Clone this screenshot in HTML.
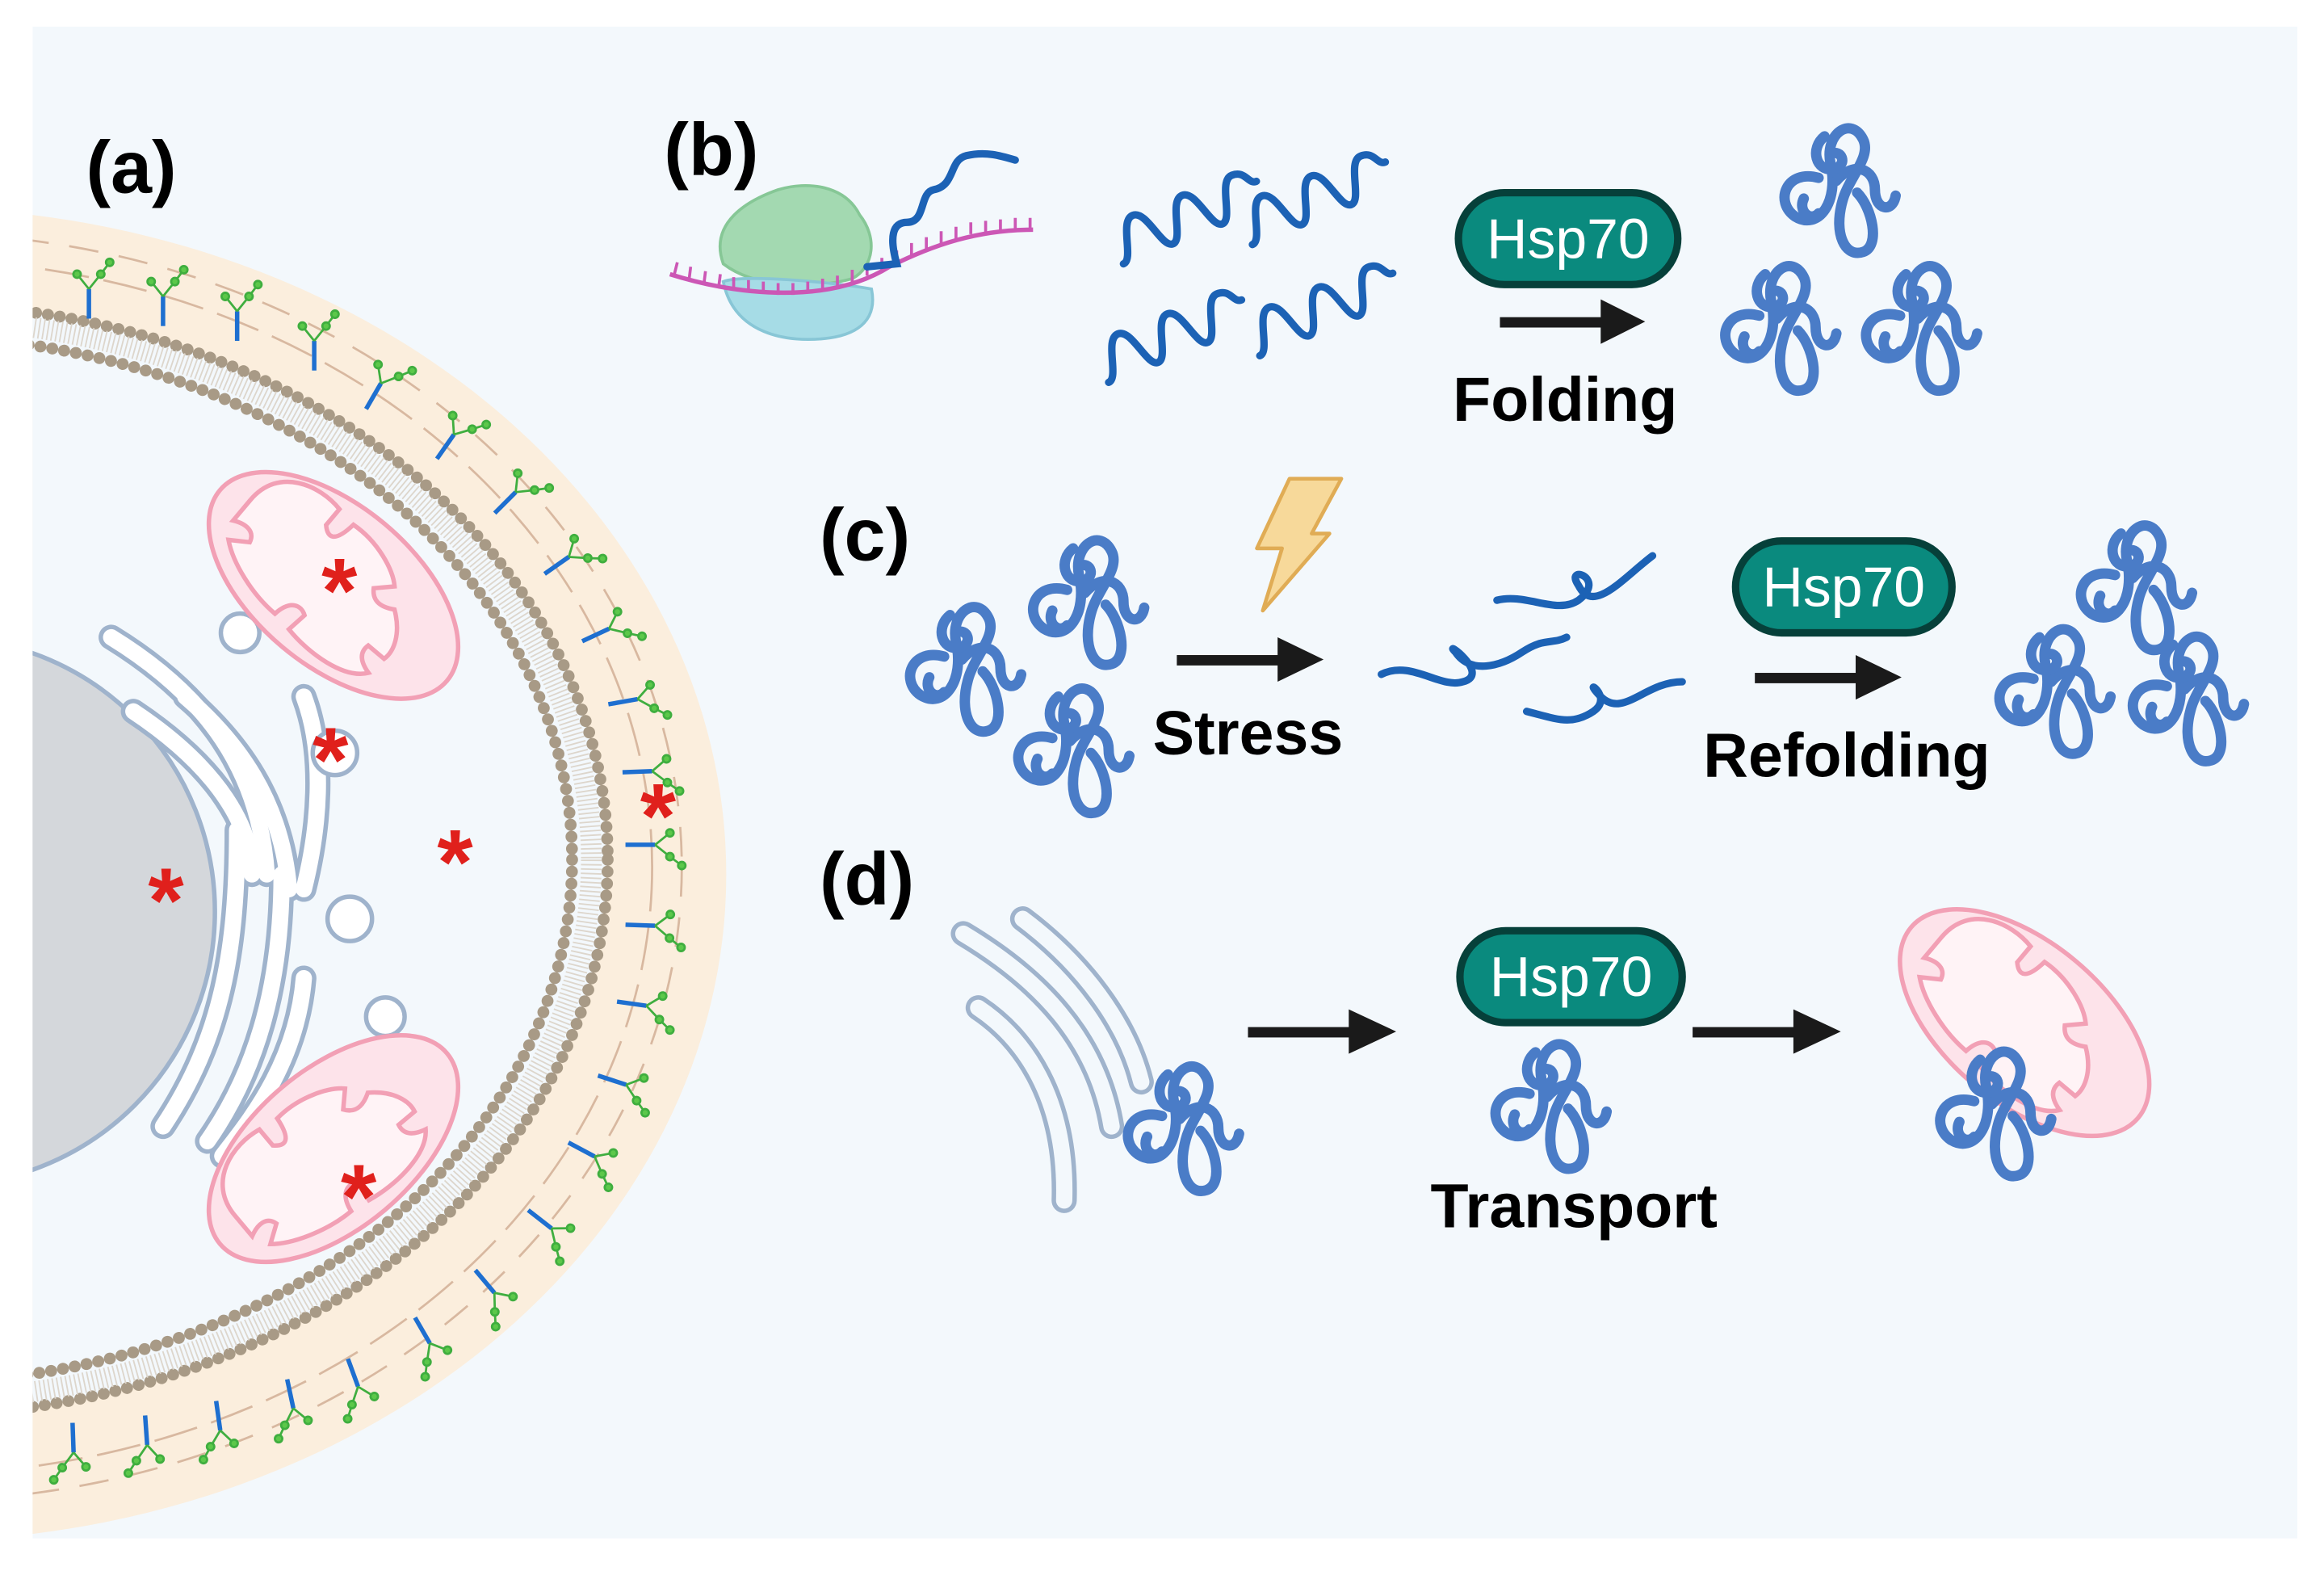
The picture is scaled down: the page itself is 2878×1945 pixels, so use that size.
<!DOCTYPE html>
<html><head><meta charset="utf-8"><style>
html,body{margin:0;padding:0;background:#fff;}
svg{display:block;}
text{font-family:"Liberation Sans",sans-serif;}
</style></head><body>
<svg width="2878" height="1945" viewBox="0 0 1568 1060" preserveAspectRatio="none" xmlns="http://www.w3.org/2000/svg">
<defs>
<clipPath id="pc"><rect x="22" y="18" width="1528" height="1020"/></clipPath>
<g id="prot" fill="none" stroke="#4a7cc7" stroke-width="7" stroke-linecap="round" stroke-linejoin="round">
<path d="M32,48 c-22,-6 -30,16 -16,26 c16,10 30,-10 24,-36 c-4,-20 14,-32 22,-16 c6,12 -10,26 -14,42 c-6,22 2,38 14,34 c12,-4 6,-30 -4,-40"/>
<path d="M44,50 c12,-14 26,-8 26,6 c0,14 12,16 14,4"/>
<path d="M36,20 c-10,8 -6,24 6,22 c10,-2 6,-14 -2,-10"/>
<path d="M22,62 c-4,8 4,16 10,10"/>
</g>
<g id="mito">
<ellipse cx="0" cy="0" rx="100" ry="54" fill="#fde3ea" stroke="#f2a0b5" stroke-width="3"/>
<path d="M-80,-8 c0,-30 30,-38 50,-34 l0,14 c6,6 12,6 14,-12 c20,-2 40,6 48,14 l-10,10 c4,6 10,8 20,2 c14,10 18,22 16,30 l-14,0 c-2,8 4,12 12,14 c-10,14 -40,16 -60,12 l2,-14 c-6,-4 -14,-2 -16,12 c-20,0 -44,-8 -56,-18 l12,-8 c-2,-8 -10,-8 -18,-4 z" fill="#fff3f6" stroke="#f2a0b5" stroke-width="3"/>
</g>
<g id="wave"><path d="M0,0 c8,0 8,-28 18,-28 s10,28 18,28 s8,-28 18,-28 s10,28 18,28 s8,-28 18,-28 s8,10 14,10" fill="none" stroke="#1c62b5" stroke-width="5" stroke-linecap="round"/></g>
</defs>
<rect width="1568" height="1060" fill="#fff"/>
<rect x="22" y="18" width="1528" height="1020" fill="#f3f8fc"/>
<g clip-path="url(#pc)">
<ellipse cx="-60" cy="590" rx="550" ry="450" fill="#fbeedd"/>
<ellipse cx="-60" cy="585" rx="500" ry="410" fill="none" stroke="#d8b8a0" stroke-width="1.5" stroke-dasharray="30 10"/>
<ellipse cx="-60" cy="585" rx="520" ry="428" fill="none" stroke="#d8b8a0" stroke-width="1.5" stroke-dasharray="20 14"/>
<ellipse cx="-60" cy="580" rx="470" ry="375" fill="#f3f8fc" stroke="#a89a86" stroke-width="8" stroke-dasharray="0.1 8" stroke-linecap="round"/>
<ellipse cx="-60" cy="580" rx="459" ry="365" fill="none" stroke="#ddd6cc" stroke-width="14" stroke-dasharray="1 2"/>
<ellipse cx="-60" cy="580" rx="446" ry="353" fill="none" stroke="#a89a86" stroke-width="8" stroke-dasharray="0.1 8" stroke-linecap="round"/>
<g stroke="#3fae3f" stroke-width="1.5" fill="#5cc84a">
<g transform="translate(60,185)"><line x1="0" y1="30" x2="0" y2="10" stroke="#1e6fd0" stroke-width="3"/><path d="M0,10 l-8,-10 M0,10 l8,-10 M8,0 l6,-8" fill="none"/><circle cx="-8" cy="0" r="2.5"/><circle cx="8" cy="0" r="2.5"/><circle cx="14" cy="-8" r="2.5"/></g>
<g transform="translate(110,190)"><line x1="0" y1="30" x2="0" y2="10" stroke="#1e6fd0" stroke-width="3"/><path d="M0,10 l-8,-10 M0,10 l8,-10 M8,0 l6,-8" fill="none"/><circle cx="-8" cy="0" r="2.5"/><circle cx="8" cy="0" r="2.5"/><circle cx="14" cy="-8" r="2.5"/></g>
<g transform="translate(160,200)"><line x1="0" y1="30" x2="0" y2="10" stroke="#1e6fd0" stroke-width="3"/><path d="M0,10 l-8,-10 M0,10 l8,-10 M8,0 l6,-8" fill="none"/><circle cx="-8" cy="0" r="2.5"/><circle cx="8" cy="0" r="2.5"/><circle cx="14" cy="-8" r="2.5"/></g>
<g transform="translate(212,220)"><line x1="0" y1="30" x2="0" y2="10" stroke="#1e6fd0" stroke-width="3"/><path d="M0,10 l-8,-10 M0,10 l8,-10 M8,0 l6,-8" fill="none"/><circle cx="-8" cy="0" r="2.5"/><circle cx="8" cy="0" r="2.5"/><circle cx="14" cy="-8" r="2.5"/></g>
<g transform="translate(262,250) rotate(30)"><line x1="0" y1="30" x2="0" y2="10" stroke="#1e6fd0" stroke-width="3"/><path d="M0,10 l-8,-10 M0,10 l8,-10 M8,0 l6,-8" fill="none"/><circle cx="-8" cy="0" r="2.5"/><circle cx="8" cy="0" r="2.5"/><circle cx="14" cy="-8" r="2.5"/></g>
<g transform="translate(312,285) rotate(35)"><line x1="0" y1="30" x2="0" y2="10" stroke="#1e6fd0" stroke-width="3"/><path d="M0,10 l-8,-10 M0,10 l8,-10 M8,0 l6,-8" fill="none"/><circle cx="-8" cy="0" r="2.5"/><circle cx="8" cy="0" r="2.5"/><circle cx="14" cy="-8" r="2.5"/></g>
<g transform="translate(355,325) rotate(45)"><line x1="0" y1="30" x2="0" y2="10" stroke="#1e6fd0" stroke-width="3"/><path d="M0,10 l-8,-10 M0,10 l8,-10 M8,0 l6,-8" fill="none"/><circle cx="-8" cy="0" r="2.5"/><circle cx="8" cy="0" r="2.5"/><circle cx="14" cy="-8" r="2.5"/></g>
<g transform="translate(392,370) rotate(55)"><line x1="0" y1="30" x2="0" y2="10" stroke="#1e6fd0" stroke-width="3"/><path d="M0,10 l-8,-10 M0,10 l8,-10 M8,0 l6,-8" fill="none"/><circle cx="-8" cy="0" r="2.5"/><circle cx="8" cy="0" r="2.5"/><circle cx="14" cy="-8" r="2.5"/></g>
<g transform="translate(420,420) rotate(65)"><line x1="0" y1="30" x2="0" y2="10" stroke="#1e6fd0" stroke-width="3"/><path d="M0,10 l-8,-10 M0,10 l8,-10 M8,0 l6,-8" fill="none"/><circle cx="-8" cy="0" r="2.5"/><circle cx="8" cy="0" r="2.5"/><circle cx="14" cy="-8" r="2.5"/></g>
<g transform="translate(440,470) rotate(80)"><line x1="0" y1="30" x2="0" y2="10" stroke="#1e6fd0" stroke-width="3"/><path d="M0,10 l-8,-10 M0,10 l8,-10 M8,0 l6,-8" fill="none"/><circle cx="-8" cy="0" r="2.5"/><circle cx="8" cy="0" r="2.5"/><circle cx="14" cy="-8" r="2.5"/></g>
<g transform="translate(450,520) rotate(88)"><line x1="0" y1="30" x2="0" y2="10" stroke="#1e6fd0" stroke-width="3"/><path d="M0,10 l-8,-10 M0,10 l8,-10 M8,0 l6,-8" fill="none"/><circle cx="-8" cy="0" r="2.5"/><circle cx="8" cy="0" r="2.5"/><circle cx="14" cy="-8" r="2.5"/></g>
<g transform="translate(452,570) rotate(90)"><line x1="0" y1="30" x2="0" y2="10" stroke="#1e6fd0" stroke-width="3"/><path d="M0,10 l-8,-10 M0,10 l8,-10 M8,0 l6,-8" fill="none"/><circle cx="-8" cy="0" r="2.5"/><circle cx="8" cy="0" r="2.5"/><circle cx="14" cy="-8" r="2.5"/></g>
<g transform="translate(452,625) rotate(92)"><line x1="0" y1="30" x2="0" y2="10" stroke="#1e6fd0" stroke-width="3"/><path d="M0,10 l-8,-10 M0,10 l8,-10 M8,0 l6,-8" fill="none"/><circle cx="-8" cy="0" r="2.5"/><circle cx="8" cy="0" r="2.5"/><circle cx="14" cy="-8" r="2.5"/></g>
<g transform="translate(446,680) rotate(98)"><line x1="0" y1="30" x2="0" y2="10" stroke="#1e6fd0" stroke-width="3"/><path d="M0,10 l-8,-10 M0,10 l8,-10 M8,0 l6,-8" fill="none"/><circle cx="-8" cy="0" r="2.5"/><circle cx="8" cy="0" r="2.5"/><circle cx="14" cy="-8" r="2.5"/></g>
<g transform="translate(432,735) rotate(108)"><line x1="0" y1="30" x2="0" y2="10" stroke="#1e6fd0" stroke-width="3"/><path d="M0,10 l-8,-10 M0,10 l8,-10 M8,0 l6,-8" fill="none"/><circle cx="-8" cy="0" r="2.5"/><circle cx="8" cy="0" r="2.5"/><circle cx="14" cy="-8" r="2.5"/></g>
<g transform="translate(410,785) rotate(118)"><line x1="0" y1="30" x2="0" y2="10" stroke="#1e6fd0" stroke-width="3"/><path d="M0,10 l-8,-10 M0,10 l8,-10 M8,0 l6,-8" fill="none"/><circle cx="-8" cy="0" r="2.5"/><circle cx="8" cy="0" r="2.5"/><circle cx="14" cy="-8" r="2.5"/></g>
<g transform="translate(380,835) rotate(128)"><line x1="0" y1="30" x2="0" y2="10" stroke="#1e6fd0" stroke-width="3"/><path d="M0,10 l-8,-10 M0,10 l8,-10 M8,0 l6,-8" fill="none"/><circle cx="-8" cy="0" r="2.5"/><circle cx="8" cy="0" r="2.5"/><circle cx="14" cy="-8" r="2.5"/></g>
<g transform="translate(340,880) rotate(140)"><line x1="0" y1="30" x2="0" y2="10" stroke="#1e6fd0" stroke-width="3"/><path d="M0,10 l-8,-10 M0,10 l8,-10 M8,0 l6,-8" fill="none"/><circle cx="-8" cy="0" r="2.5"/><circle cx="8" cy="0" r="2.5"/><circle cx="14" cy="-8" r="2.5"/></g>
<g transform="translate(295,915) rotate(150)"><line x1="0" y1="30" x2="0" y2="10" stroke="#1e6fd0" stroke-width="3"/><path d="M0,10 l-8,-10 M0,10 l8,-10 M8,0 l6,-8" fill="none"/><circle cx="-8" cy="0" r="2.5"/><circle cx="8" cy="0" r="2.5"/><circle cx="14" cy="-8" r="2.5"/></g>
<g transform="translate(245,945) rotate(160)"><line x1="0" y1="30" x2="0" y2="10" stroke="#1e6fd0" stroke-width="3"/><path d="M0,10 l-8,-10 M0,10 l8,-10 M8,0 l6,-8" fill="none"/><circle cx="-8" cy="0" r="2.5"/><circle cx="8" cy="0" r="2.5"/><circle cx="14" cy="-8" r="2.5"/></g>
<g transform="translate(200,960) rotate(168)"><line x1="0" y1="30" x2="0" y2="10" stroke="#1e6fd0" stroke-width="3"/><path d="M0,10 l-8,-10 M0,10 l8,-10 M8,0 l6,-8" fill="none"/><circle cx="-8" cy="0" r="2.5"/><circle cx="8" cy="0" r="2.5"/><circle cx="14" cy="-8" r="2.5"/></g>
<g transform="translate(150,975) rotate(172)"><line x1="0" y1="30" x2="0" y2="10" stroke="#1e6fd0" stroke-width="3"/><path d="M0,10 l-8,-10 M0,10 l8,-10 M8,0 l6,-8" fill="none"/><circle cx="-8" cy="0" r="2.5"/><circle cx="8" cy="0" r="2.5"/><circle cx="14" cy="-8" r="2.5"/></g>
<g transform="translate(100,985) rotate(176)"><line x1="0" y1="30" x2="0" y2="10" stroke="#1e6fd0" stroke-width="3"/><path d="M0,10 l-8,-10 M0,10 l8,-10 M8,0 l6,-8" fill="none"/><circle cx="-8" cy="0" r="2.5"/><circle cx="8" cy="0" r="2.5"/><circle cx="14" cy="-8" r="2.5"/></g>
<g transform="translate(50,990) rotate(178)"><line x1="0" y1="30" x2="0" y2="10" stroke="#1e6fd0" stroke-width="3"/><path d="M0,10 l-8,-10 M0,10 l8,-10 M8,0 l6,-8" fill="none"/><circle cx="-8" cy="0" r="2.5"/><circle cx="8" cy="0" r="2.5"/><circle cx="14" cy="-8" r="2.5"/></g>
</g>
<circle cx="-40" cy="615" r="185" fill="#d4d7db" stroke="#9fb3cc" stroke-width="3"/>
<g fill="none" stroke-linecap="round">
<g stroke="#9fb3cc" stroke-width="17">
<path d="M75,430 C140,470 175,520 180,590"/>
<path d="M90,480 C150,520 170,560 170,590"/>
<path d="M205,470 C220,510 215,560 205,600"/>
<path d="M125,470 C160,500 190,540 195,600"/>
<path d="M160,560 C160,640 150,700 110,760"/>
<path d="M190,590 C190,660 175,720 140,770"/>
<path d="M205,660 C200,720 165,760 150,780"/>
</g>
<g stroke="#ffffff" stroke-width="11">
<path d="M75,430 C140,470 175,520 180,590"/>
<path d="M90,480 C150,520 170,560 170,590"/>
<path d="M205,470 C220,510 215,560 205,600"/>
<path d="M125,470 C160,500 190,540 195,600"/>
<path d="M160,560 C160,640 150,700 110,760"/>
<path d="M190,590 C190,660 175,720 140,770"/>
<path d="M205,660 C200,720 165,760 150,780"/>
</g>
</g>
<g fill="#fff" stroke="#9fb3cc" stroke-width="3">
<circle cx="162" cy="427" r="13"/><circle cx="226" cy="508" r="15"/><circle cx="236" cy="620" r="15"/><circle cx="260" cy="686" r="13"/>
</g>
<use href="#mito" transform="translate(225,395) rotate(40)"/>
<use href="#mito" transform="translate(225,775) rotate(-40)"/>
</g>
<g fill="#e0201c" font-size="62" font-weight="bold" text-anchor="middle">
<text x="229" y="420">*</text><text x="223" y="534">*</text><text x="307" y="603">*</text><text x="112" y="629">*</text><text x="242" y="829">*</text><text x="444" y="572">*</text>
</g>
<g font-weight="bold" font-size="50" fill="#000">
<text x="58" y="130">(a)</text><text x="448" y="118">(b)</text><text x="553" y="378">(c)</text><text x="553" y="610">(d)</text>
</g>
<path d="M488,178 C478,150 505,135 525,128 C545,122 570,125 580,145 C592,160 590,180 575,188 C550,195 510,195 488,178 Z" fill="#a3d9b1" stroke="#86c796" stroke-width="2"/>
<path d="M488,190 C500,185 560,190 588,195 C592,215 580,225 560,228 C530,232 495,225 488,190 Z" fill="#a6dce6" stroke="#88c6d6" stroke-width="2"/>
<path d="M452,185 C500,200 560,205 600,180 C630,165 660,155 697,155" fill="none" stroke="#cc57b5" stroke-width="3"/>
<path d="M455,185 l2,-8 M465,188 l1,-8 M475,191 l1,-8 M485,193 l1,-8 M495,195 l0,-8 M505,197 l0,-8 M515,198 l0,-8 M525,199 l0,-8 M535,199 l0,-8 M545,198 l0,-8 M555,196 l0,-8 M565,194 l0,-8 M575,190 l0,-8 M585,186 l0,-8 M595,182 l0,-8 M605,177 l0,-8 M615,172 l0,-8 M625,168 l0,-8 M635,164 l0,-8 M645,161 l0,-8 M655,158 l0,-8 M665,157 l0,-8 M675,156 l0,-8 M685,155 l0,-8 M695,155 l0,-8" stroke="#cc57b5" stroke-width="2"/>
<path d="M585,180 L605,178 C600,160 602,150 612,150 C625,150 620,130 630,128 C645,125 640,108 652,105 C665,102 675,105 685,108" fill="none" stroke="#1c62b5" stroke-width="5" stroke-linecap="round"/>
<use href="#wave" transform="translate(758,178) rotate(-22)"/>
<use href="#wave" transform="translate(845,165) rotate(-22)"/>
<use href="#wave" transform="translate(748,258) rotate(-22)"/>
<use href="#wave" transform="translate(850,240) rotate(-22)"/>
<g fill="none" stroke="#1c62b5" stroke-width="5" stroke-linecap="round">
<path d="M932,455 c20,-10 40,10 55,5 c20,-5 -15,-30 -5,-20 c10,15 30,10 45,0 c15,-10 20,-5 30,-10"/>
<path d="M1010,405 c20,-5 40,10 55,0 c20,-15 -10,-25 0,-10 c10,20 30,-5 50,-20"/>
<path d="M1030,480 c20,5 30,10 45,0 c15,-10 -10,-25 5,-10 c15,15 30,-10 55,-10"/>
</g>
<path d="M870,323 L905,323 L885,360 L897,360 L852,412 L865,370 L848,370 Z" fill="#f7d99a" stroke="#e0ac55" stroke-width="2.5" stroke-linejoin="round"/>
<g stroke="#06403a" stroke-width="5" fill="#0a8a7e">
<rect x="984" y="130" width="148" height="62" rx="31"/>
<rect x="1171" y="365" width="146" height="62" rx="31"/>
<rect x="985" y="628" width="150" height="62" rx="31"/>
</g>
<g fill="#fff" font-size="38" text-anchor="middle">
<text x="1058" y="174">Hsp70</text><text x="1244" y="409">Hsp70</text><text x="1060" y="672">Hsp70</text>
</g>
<g fill="#1a1a1a">
<rect x="1012" y="214" width="70" height="7"/><path d="M1080,202 L1110,217 L1080,232 Z"/>
<rect x="794" y="442" width="70" height="7"/><path d="M862,430 L893,445 L862,460 Z"/>
<rect x="1184" y="454" width="70" height="7"/><path d="M1252,442 L1283,457 L1252,472 Z"/>
<rect x="842" y="693" width="70" height="7"/><path d="M910,681 L942,696 L910,711 Z"/>
<rect x="1142" y="693" width="70" height="7"/><path d="M1210,681 L1242,696 L1210,711 Z"/>
</g>
<g font-weight="bold" font-size="42" fill="#000" text-anchor="middle">
<text x="1056" y="284">Folding</text><text x="842" y="509">Stress</text><text x="1246" y="524">Refolding</text><text x="1062" y="828">Transport</text>
</g>
<g fill="none" stroke-linecap="round">
<g stroke="#9fb3cc" stroke-width="17">
<path d="M650,630 C700,660 740,700 750,760"/>
<path d="M690,620 C730,650 760,690 770,730"/>
<path d="M660,680 C690,700 720,740 718,810"/>
</g>
<g stroke="#f3f8fc" stroke-width="11">
<path d="M650,630 C700,660 740,700 750,760"/>
<path d="M690,620 C730,650 760,690 770,730"/>
<path d="M660,680 C690,700 720,740 718,810"/>
</g>
</g>
<use href="#mito" transform="translate(1366,690) rotate(40)"/>
<use href="#prot" transform="translate(1195,72)"/>
<use href="#prot" transform="translate(1155,165)"/>
<use href="#prot" transform="translate(1250,165)"/>
<use href="#prot" transform="translate(605,395)"/>
<use href="#prot" transform="translate(688,350)"/>
<use href="#prot" transform="translate(678,450)"/>
<use href="#prot" transform="translate(1395,340)"/>
<use href="#prot" transform="translate(1340,410)"/>
<use href="#prot" transform="translate(1430,415)"/>
<use href="#prot" transform="translate(752,705)"/>
<use href="#prot" transform="translate(1000,690)"/>
<use href="#prot" transform="translate(1300,695)"/>
</svg>
</body></html>
